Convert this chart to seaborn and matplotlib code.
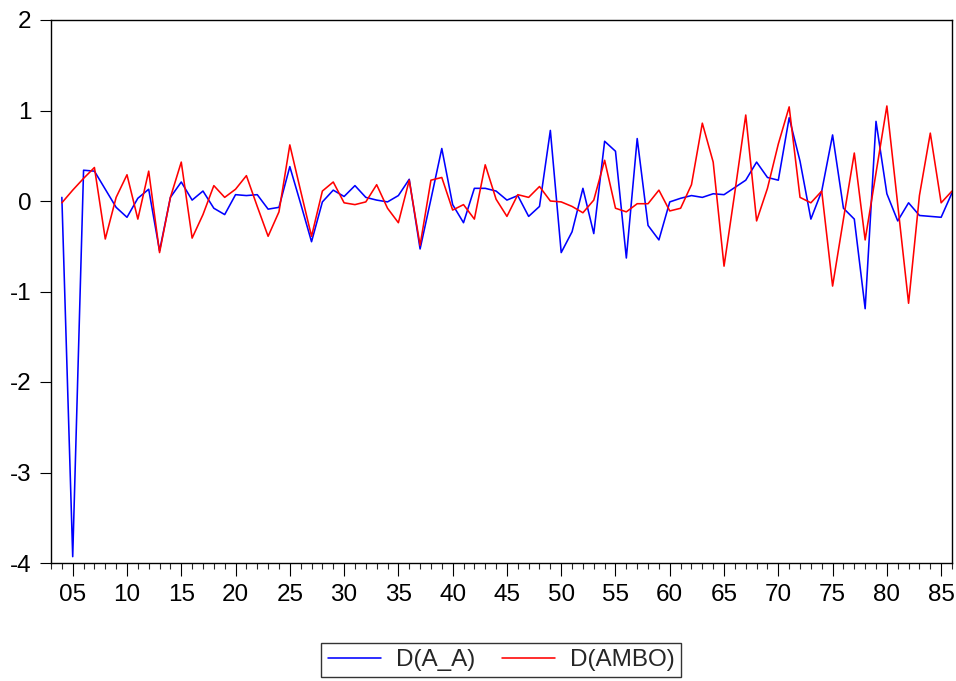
import numpy as np
import pandas as pd
import matplotlib.pyplot as plt
from matplotlib.ticker import MultipleLocator, FuncFormatter
import seaborn as sns

# ---------- data ----------
years = list(range(1904, 1987))

d_a_a = [0.04, -3.93, 0.34, 0.33, 0.13, -0.07, -0.18, 0.03, 0.13, -0.55,
         0.04, 0.21, 0.01, 0.11, -0.08, -0.15, 0.07, 0.06, 0.07, -0.09,
         -0.07, 0.38, -0.03, -0.45, -0.01, 0.12, 0.05, 0.17, 0.04, 0.01,
         -0.01, 0.06, 0.24, -0.53, 0.02, 0.58, -0.04, -0.24, 0.14, 0.14,
         0.11, 0.01, 0.06, -0.17, -0.06, 0.78, -0.57, -0.34, 0.14, -0.36,
         0.66, 0.55, -0.63, 0.69, -0.27, -0.43, -0.01, 0.03, 0.06, 0.04,
         0.08, 0.07, 0.15, 0.23, 0.43, 0.26, 0.23, 0.92, 0.44, -0.20,
         0.11, 0.73, -0.08, -0.20, -1.19, 0.88, 0.08, -0.22, -0.02, -0.16,
         -0.17, -0.18, 0.09]

d_ambo = [-0.02, 0.12, 0.25, 0.37, -0.42, 0.04, 0.29, -0.20, 0.33, -0.57,
          0.04, 0.43, -0.41, -0.15, 0.17, 0.04, 0.13, 0.28, -0.06, -0.39,
          -0.12, 0.62, 0.11, -0.39, 0.11, 0.21, -0.02, -0.04, -0.01, 0.18,
          -0.08, -0.24, 0.23, -0.49, 0.23, 0.26, -0.10, -0.04, -0.20, 0.40,
          0.02, -0.17, 0.07, 0.04, 0.16, 0.00, -0.01, -0.06, -0.13, 0.01,
          0.45, -0.08, -0.12, -0.03, -0.03, 0.12, -0.11, -0.08, 0.18, 0.86,
          0.43, -0.72, 0.10, 0.95, -0.22, 0.14, 0.63, 1.04, 0.04, -0.02,
          0.11, -0.94, -0.20, 0.53, -0.43, 0.31, 1.05, -0.04, -1.13, 0.06,
          0.75, -0.02, 0.11]

series_names = ["D(A_A)", "D(AMBO)"]
series_colors = ["#0000FF", "#FF0000"]

df = pd.DataFrame({
    "year": years * 2,
    "value": d_a_a + d_ambo,
    "series": [series_names[0]] * len(years) + [series_names[1]] * len(years),
})

# ---------- plot ----------
sns.set_style("ticks")
plt.rcParams["font.family"] = ["Liberation Sans", "DejaVu Sans"]
plt.rcParams["font.size"] = 17.5
plt.rcParams["axes.unicode_minus"] = False

fig = plt.figure(figsize=(9.56, 6.81), dpi=100)
ax = fig.add_axes([51 / 956, 1 - 563 / 681, (952 - 51) / 956, (563 - 20) / 681])

sns.lineplot(data=df, x="year", y="value", hue="series",
             palette=dict(zip(series_names, series_colors)),
             linewidth=1.15, ax=ax, legend=False)

ax.set_xlim(1903, 1986)
ax.set_ylim(-4, 2)
ax.set_xlabel("")
ax.set_ylabel("")

ax.xaxis.set_major_locator(MultipleLocator(5))
ax.xaxis.set_minor_locator(MultipleLocator(1))
ax.xaxis.set_major_formatter(FuncFormatter(lambda v, p: f"{int(round(v)) % 100:02d}"))
ax.yaxis.set_major_locator(MultipleLocator(1))

for s in ax.spines.values():
    s.set_color("black")
    s.set_linewidth(1.0)

ax.tick_params(axis="x", which="major", length=9, width=0.8, pad=6,
               labelsize=17.5, colors="black")
ax.tick_params(axis="x", which="minor", length=4.5, width=0.8)
ax.tick_params(axis="y", which="major", length=8, width=0.8, pad=6,
               labelsize=17.5, colors="black")

handles = [plt.Line2D([], [], color=c, linewidth=1.15) for c in series_colors]
leg = fig.legend(handles, series_names, loc="center",
                 bbox_to_anchor=(501 / 956, 1 - 660 / 681), ncol=2,
                 frameon=True, fancybox=False, edgecolor="black",
                 handlelength=2.2, columnspacing=1.1, fontsize=17.5,
                 borderpad=0.25, handletextpad=0.6)
leg.get_frame().set_linewidth(1.0)

fig.savefig("out.png", dpi=100)
